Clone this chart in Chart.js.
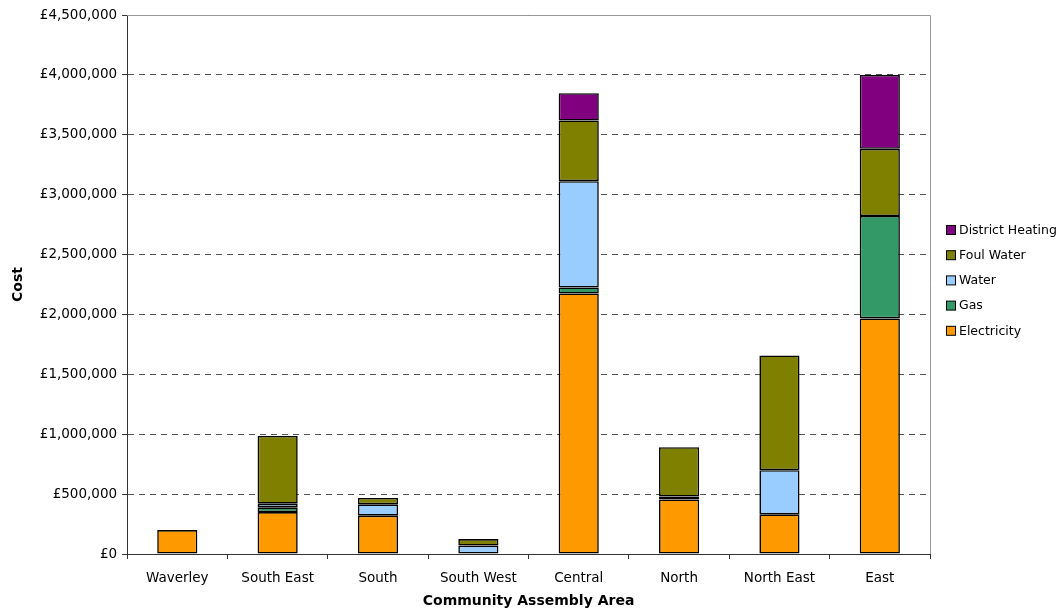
<!DOCTYPE html>
<html>
<head>
<meta charset="utf-8">
<script src="https://cdn.jsdelivr.net/npm/chart.js@4.4.1/dist/chart.umd.min.js"></script>
<style>
  html, body { margin: 0; padding: 0; background: #fff; }
  #wrap { width: 1060px; height: 615px; position: relative; }
</style>
</head>
<body>
<div id="wrap"><canvas id="costChart"></canvas></div>
<script>
const areas = ['Waverley', 'South East', 'South', 'South West', 'Central', 'North', 'North East', 'East'];

const electricity     = [200000, 350000, 320000, 0,     2175000, 456000, 331000, 1967000];
const gas             = [0,      40000,  0,      0,     50000,   0,      0,      855000];
const water           = [0,      30000,  95000,  70000, 888000,  24000,  369000, 0];
const foulWater       = [0,      565000, 53000,  55000, 506000,  412000, 958000, 561000];
const districtHeating = [0,      0,      0,      0,     228000,  0,      0,      617000];

const yMax = 4500000;
const yStep = 500000;

const fontFamily = '"DejaVu Sans", Verdana, sans-serif';

const gbp = v => '£' + Number(v).toLocaleString('en-GB');

// plot frame (top + right) and a custom legend with tight box/text spacing
const frameAndLegend = {
  id: 'frameAndLegend',
  afterDraw(chart) {
    const { ctx, chartArea } = chart;
    ctx.save();
    ctx.strokeStyle = '#999';
    ctx.lineWidth = 1;
    ctx.beginPath();
    ctx.moveTo(chartArea.left, chartArea.top + 0.5);
    ctx.lineTo(chartArea.right + 0.5, chartArea.top + 0.5);
    ctx.lineTo(chartArea.right + 0.5, chartArea.bottom);
    ctx.stroke();

    const items = chart.data.datasets.slice().reverse();
    let y = 230;
    ctx.font = '12.5px ' + fontFamily;
    ctx.textBaseline = 'middle';
    items.forEach(ds => {
      ctx.fillStyle = ds.backgroundColor;
      ctx.fillRect(946.5, y - 4.5, 9, 9);
      ctx.strokeStyle = '#000';
      ctx.strokeRect(946.5, y - 4.5, 9, 9);
      ctx.fillStyle = '#000';
      ctx.fillText(ds.label, 959, y + 0.5);
      y += 25.2;
    });
    ctx.restore();
  }
};

// empty segments are left out so they don't leave a stray black edge
const makeSet = (label, data, color) => ({
  label,
  data: data.map(v => (v === 0 ? null : v)),
  backgroundColor: color,
  borderColor: '#000',
  borderWidth: 1.6,
  borderSkipped: false,
  barPercentage: 0.4,
  categoryPercentage: 1.0
});

new Chart(document.getElementById('costChart'), {
  type: 'bar',
  data: {
    labels: areas,
    datasets: [
      makeSet('Electricity', electricity, '#FF9900'),
      makeSet('Gas', gas, '#339966'),
      makeSet('Water', water, '#99CCFF'),
      makeSet('Foul Water', foulWater, '#808000'),
      makeSet('District Heating', districtHeating, '#800080')
    ]
  },
  options: {
    responsive: true,
    maintainAspectRatio: false,
    animation: false,
    layout: { padding: { top: 15, right: 130, left: 10, bottom: 3 } },
    plugins: {
      legend: { display: false },
      tooltip: { enabled: false }
    },
    scales: {
      x: {
        stacked: true,
        grid: {
          offset: true,
          drawOnChartArea: false,
          color: '#333',
          tickLength: 5
        },
        border: { color: '#333' },
        ticks: {
          color: '#000',
          font: { family: fontFamily, size: 13.5 },
          padding: 11,
          maxRotation: 0
        },
        title: {
          display: true,
          text: 'Community Assembly Area',
          color: '#000',
          font: { family: fontFamily, size: 14, weight: 'bold' },
          padding: { top: -4, bottom: 2 }
        }
      },
      y: {
        stacked: true,
        min: 0,
        max: yMax,
        ticks: {
          stepSize: yStep,
          color: '#000',
          font: { family: fontFamily, size: 13.5 },
          padding: 5,
          callback: v => gbp(v)
        },
        grid: {
          color: '#555',
          tickColor: '#333',
          tickLength: 5,
          tickBorderDash: [],
          borderDash: [6, 5]
        },
        border: { color: '#333', dash: [6, 5] },
        title: {
          display: true,
          text: 'Cost',
          color: '#000',
          font: { family: fontFamily, size: 14, weight: 'bold' },
          padding: { top: 0, bottom: 8 }
        }
      }
    }
  },
  plugins: [frameAndLegend]
});
</script>
</body>
</html>
